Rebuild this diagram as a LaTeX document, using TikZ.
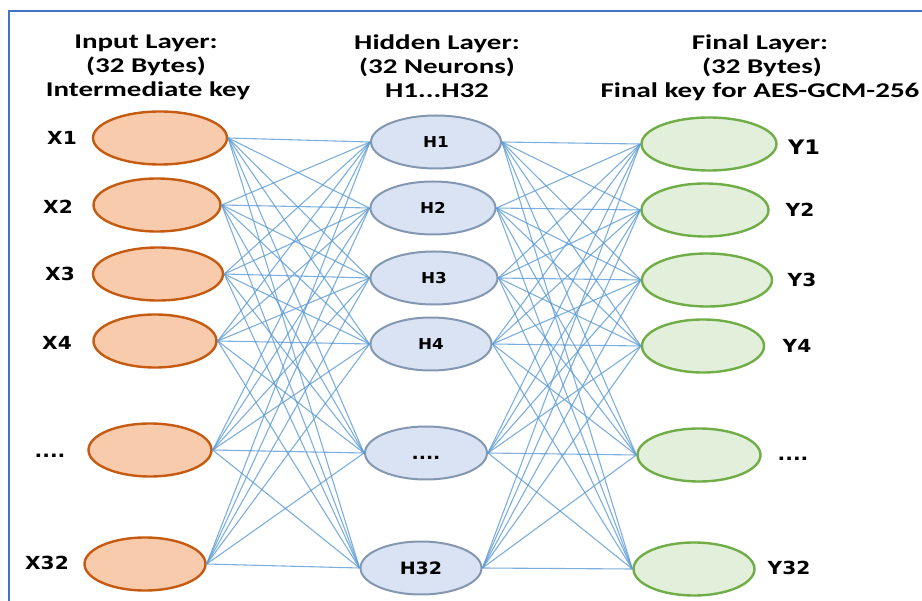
\documentclass[tikz,border=0pt]{standalone}
\usepackage{fontspec}
\usetikzlibrary{shapes.geometric}
\newfontfamily\hdrfont[FakeStretch=1.38]{Carlito}
\newfontfamily\lblfont[FakeStretch=1.12]{DejaVu Sans}
\definecolor{inFill}{HTML}{F8CBAD}
\definecolor{inDraw}{HTML}{C55A11}
\definecolor{hidFill}{HTML}{DAE3F3}
\definecolor{hidDraw}{HTML}{8497B0}
\definecolor{outFill}{HTML}{E2EFDA}
\definecolor{outDraw}{HTML}{70AD47}
\definecolor{linkCol}{HTML}{5B9BD5}
\definecolor{frameCol}{HTML}{4472C4}
\tikzset{
  neuron/.style={ellipse, inner sep=0pt, minimum height=53pt},
  inneuron/.style={neuron, fill=inFill, draw=inDraw, line width=2.4pt},
  hidneuron/.style={neuron, fill=hidFill, draw=hidDraw, line width=2pt, font=\lblfont\bfseries\fontsize{15}{18}\selectfont},
  outneuron/.style={neuron, fill=outFill, draw=outDraw, line width=2.4pt},
  hdr/.style={anchor=base, inner sep=0pt, font=\hdrfont\bfseries\fontsize{21}{24}\selectfont},
  lbl/.style={inner sep=0pt, font=\lblfont\bfseries\fontsize{18}{20}\selectfont},
  link/.style={draw=linkCol, line width=1.1pt, opacity=0.8},
  frameline/.style={draw=frameCol, line width=2pt}
}
\begin{document}
\begin{tikzpicture}[x=1pt, y=-1pt]
\useasboundingbox (0,0) rectangle (922,601);
% frame
\coordinate (fa) at (9,601);
\coordinate (fb) at (9,11);
\coordinate (fc) at (922,11);
\draw[frameline] (fa) -- (fb) -- (fc);

% headers
\node[hdr] (hi1) at (146,49) {Input Layer:};
\node[hdr] (hi2) at (146,73) {(32 Bytes)};
\node[hdr] (hi3) at (148,97) {Intermediate key};
\node[hdr] (hh1) at (437,50) {Hidden Layer:};
\node[hdr] (hh2) at (437,74) {(32 Neurons)};
\node[hdr] (hh3) at (437,98) {H1...H32};
\node[hdr] (ho1) at (760,50) {Final Layer:};
\node[hdr] (ho2) at (762,74) {(32 Bytes)};
\node[hdr] (ho3) at (760,98) {Final key for AES-GCM-256};

% input neurons
\node[inneuron, minimum width=134pt] (x1) at (160,138) {};
\node[inneuron, minimum width=127pt] (x2) at (157,205) {};
\node[inneuron, minimum width=130pt] (x3) at (158,274) {};
\node[inneuron, minimum width=123pt] (x4) at (155,341) {};
\node[inneuron, minimum width=123pt] (x5) at (150,450) {};
\node[inneuron, minimum width=121pt] (x6) at (145,564) {};

% hidden neurons
\node[hidneuron, minimum width=130pt] (h1) at (436,142) {H1};
\node[hidneuron, minimum width=125pt] (h2) at (433,208) {H2};
\node[hidneuron, minimum width=127pt] (h3) at (434,278) {H3};
\node[hidneuron, minimum width=121pt] (h4) at (431,344) {H4};
\node[hidneuron, minimum width=122pt, font=\lblfont\bfseries\fontsize{17}{20}\selectfont] (h5) at (426,453) {\vphantom{H}....};
\node[hidneuron, minimum width=121pt, font=\lblfont\bfseries\fontsize{17}{20}\selectfont] (h6) at (421,568) {H32};

% output neurons
\node[outneuron, minimum width=135pt] (y1) at (709,144) {};
\node[outneuron, minimum width=127pt] (y2) at (705,210) {};
\node[outneuron, minimum width=130pt] (y3) at (707,280) {};
\node[outneuron, minimum width=122pt] (y4) at (703,346) {};
\node[outneuron, minimum width=123pt] (y5) at (699,455) {};
\node[outneuron, minimum width=121pt] (y6) at (694,569) {};

% labels
\node[lbl] (lx1) at (62,138) {X1};
\node[lbl] (lx2) at (58,207) {X2};
\node[lbl] (lx3) at (60,274) {X3};
\node[lbl] (lx4) at (57,343) {X4};
\node[lbl, anchor=base] (lx5) at (50,458) {....};
\node[lbl] (lx6) at (47,563) {X32};
\node[lbl, font=\lblfont\bfseries\fontsize{20}{22}\selectfont] (ly1) at (804,147) {Y1};
\node[lbl] (ly2) at (800,210) {Y2};
\node[lbl] (ly3) at (802,280) {Y3};
\node[lbl] (ly4) at (797,346) {Y4};
\node[lbl, anchor=base] (ly5) at (793,461) {....};
\node[lbl] (ly6) at (789,568) {Y32};

% links
\foreach \i in {1,...,6}{
  \foreach \j in {1,...,6}{
    \draw[link] (x\i.east) -- (h\j.west);
    \draw[link] (h\i.east) -- (y\j.west);
  }
}
\end{tikzpicture}
\end{document}
